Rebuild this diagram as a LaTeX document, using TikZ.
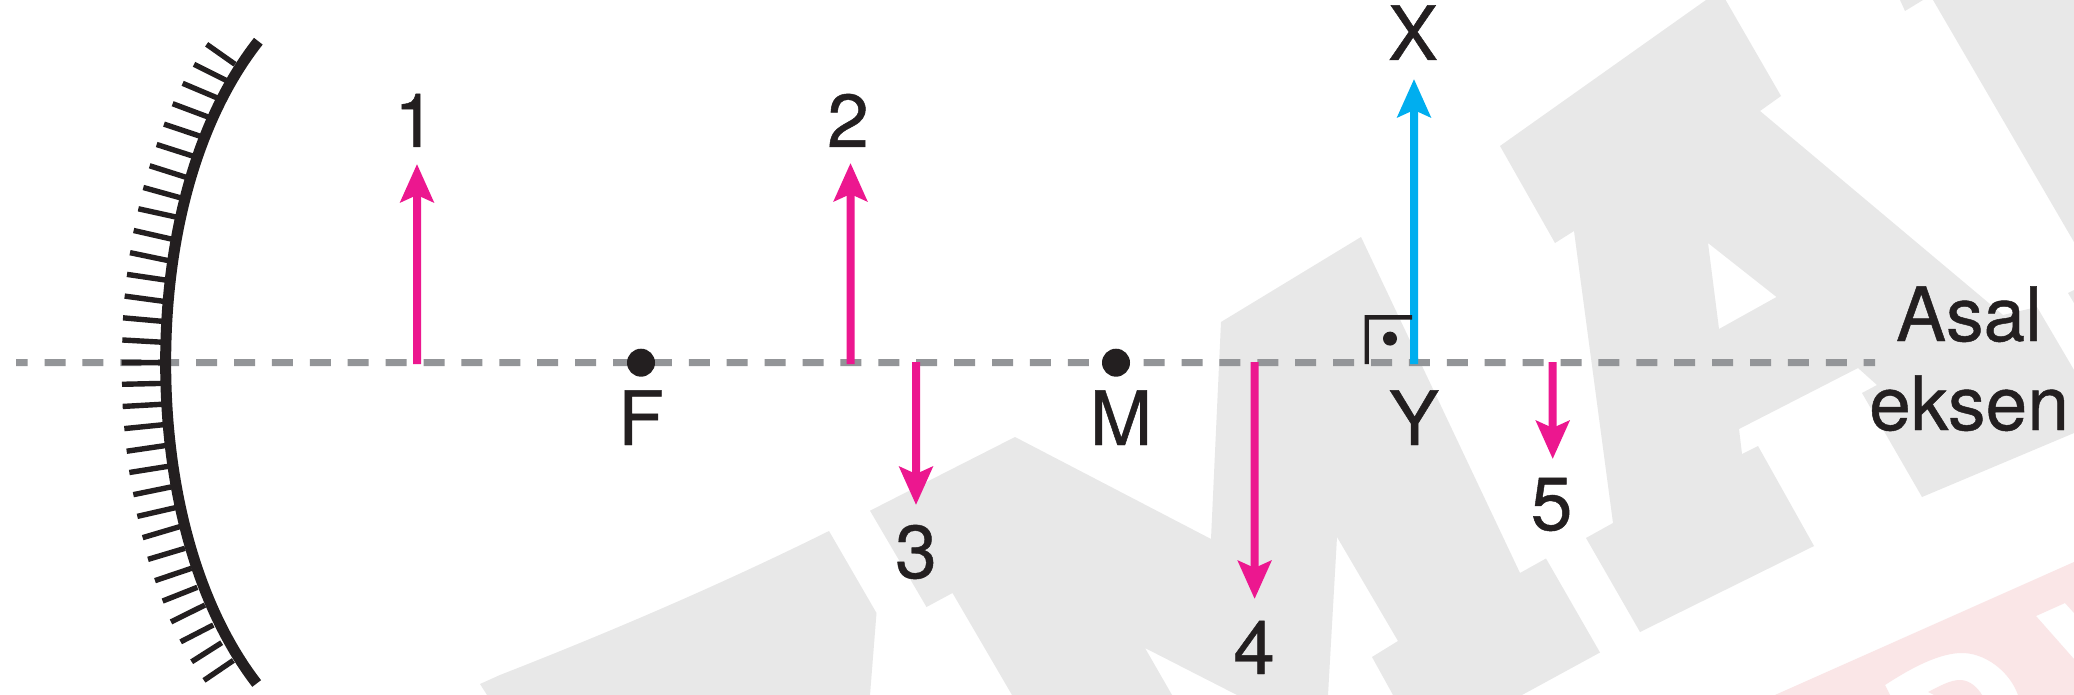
\documentclass[tikz,border=0pt]{standalone}
\usepackage{fontspec}
\setmainfont[FakeBold=0.6]{TeX Gyre Heros}
\usetikzlibrary{arrows.meta}
\definecolor{wmgray}{HTML}{E8E8E8}
\definecolor{wmred}{HTML}{FAE6E7}
\definecolor{axisgray}{HTML}{939598}
\definecolor{ink}{HTML}{231F20}
\definecolor{pinkarrow}{HTML}{EC178F}
\definecolor{cyanarrow}{HTML}{00AEEF}
\tikzset{
  lbl/.style={anchor=base,inner sep=0pt,text=ink,font=\fontsize{75}{75}\selectfont},
  vec/.style={line width=8pt,-{Stealth[length=38pt,width=33pt,inset=7pt]}},
  pinkvec/.style={vec,draw=pinkarrow,color=pinkarrow},
  cyanvec/.style={vec,draw=cyanarrow,color=cyanarrow},
  axisline/.style={draw=axisgray,line width=7pt,dash pattern=on 21pt off 16.9pt,dash phase=9.4pt},
  hatch/.style={draw=ink,line width=5.4pt},
  mirrorline/.style={draw=ink,line width=11pt},
  dotmark/.style={circle,fill=ink,inner sep=0pt,minimum size=28pt},
}
\begin{document}
\begin{tikzpicture}[x=1pt,y=-1pt]
\useasboundingbox (0,0) rectangle (2074,695);
\fill[white] (0,0) rectangle (2074,695);
% watermark
\fill[wmred] (1775,695) -- (2074,562) -- (2074,613) -- (2065,603) -- (2036,616) -- (2074,659) -- (2074,695) -- (2018,695)
  .. controls (2010,672) and (1985,652) .. (1960,653) .. controls (1935,654) and (1905,672) .. (1885,685) -- (1890,695) -- cycle;
\fill[wmred] (1928,692) .. controls (1940,686) and (1950,680) .. (1960,680) .. controls (1970,680) and (1978,688) .. (1982,695) -- (1934,695) -- cycle;
\fill[wmgray] (487,695) -- (480,684) -- (500,675) .. controls (610,632) and (720,585) .. (829,531) -- (876.5,613) -- (870,695) -- cycle;
\fill[wmgray] (870,510.7) -- (1015,437) -- (1211,539) -- (1221,322) -- (1361,237) -- (1520,573) -- (1546,558.5) -- (1600,652.5)
  -- (1522,695) -- (1393,695) -- (1372,657) -- (1398,641) -- (1337,537) -- (1328,695) -- (1237,695) -- (1145,648) -- (1172,695)
  -- (1012,695) -- (952.5,593) -- (926.5,607) -- cycle;
\fill[wmgray,even odd rule] (1706,0) -- (1725.6,0) -- (1781,96) -- (1760,111) -- (2003,315) -- (2037,307) -- (2074,370) -- (2074,433)
  -- (1922,497) -- (1862,393) -- (1877,385) -- (1858,368) -- (1739,429) -- (1742,454) -- (1758,446) -- (1814,546) -- (1640,632)
  -- (1586,538) -- (1613,523) -- (1574,231) -- (1555,243) -- (1500,146) -- cycle
  (1708,243) -- (1776.5,297) -- (1719,329) -- cycle;
\fill[wmgray] (1933,0) -- (2074,0) -- (2074,242) -- cycle;
\fill[wmgray] (1900,0) -- (1905,11) -- (1923,0) -- cycle;
\fill[wmgray] (2068,293) -- (2074,290) -- (2074,303) -- cycle;
% foreground, printed over the watermark
\begin{scope}[blend group=multiply]
\begin{scope}[blend mode=normal]
  \coordinate (axL) at (16,362.7);
  \coordinate (axR) at (1875,362.7);
  \path[axisline] (axL) -- (axR);
  % mirror, typed in the 3x / 2.256x crop units
  \begin{scope}[x=0.33333pt,y=-0.44326pt]
    \foreach \xa/\ya/\xb/\yb in {620/100/705/145,582/145/680/182,548/188/655/222,518/234/628/265,492/280/603/308,470/326/578/352,449/374/558/400,430/423/545/447,415/471/530/490,401/520/518/540,390/570/505/588,381/619/498/632,374/668/492/680,369/717/488/725,367/767/485/772,365/818/485/818,366/867/485/865,368/917/487/912,373/967/492/958,380/1018/498/1005,388/1066/505/1052,400/1116/517/1098,412/1165/528/1145,428/1213/540/1188,444/1262/555/1237,465/1310/575/1282,488/1356/592/1325,513/1403/615/1365,542/1448/640/1410,575/1493/665/1450,612/1535/700/1490}
      {\path[hatch] (\xa,\ya) -- (\xb,\yb);}
    \path[mirrorline] (775,93) .. controls (600,260) and (497,518) .. (497,818) .. controls (497,1118) and (600,1376) .. (770,1542);
  \end{scope}
  % arrows
  \coordinate (s1) at (417,364); \coordinate (e1) at (417,164);
  \coordinate (s2) at (850.5,364); \coordinate (e2) at (850.5,163);
  \coordinate (s3) at (916,362); \coordinate (e3) at (916,505);
  \coordinate (s4) at (1254.6,362); \coordinate (e4) at (1254.6,599);
  \coordinate (s5) at (1552.7,362); \coordinate (e5) at (1552.7,459);
  \coordinate (sX) at (1414,364); \coordinate (eX) at (1414,79);
  \draw[pinkvec] (s1) -- (e1);
  \draw[pinkvec] (s2) -- (e2);
  \draw[pinkvec] (s3) -- (e3);
  \draw[pinkvec] (s4) -- (e4);
  \draw[pinkvec] (s5) -- (e5);
  \draw[cyanvec] (sX) -- (eX);
  % right-angle mark
  \coordinate (r1) at (1366.7,364); \coordinate (r2) at (1366.7,317.4); \coordinate (r3) at (1412,317.4);
  \draw[ink,line width=4.4pt] (r1) -- (r2) -- (r3);
  \node[circle,fill=ink,inner sep=0pt,minimum size=14pt] (rdot) at (1390,338.6) {};
  % points
  \node[dotmark] (F) at (641,362.7) {};
  \node[dotmark] (M) at (1116,362.7) {};
  % labels
  \node[lbl] (l1) at (415,147) {1};
  \node[lbl] (l2) at (848,147) {2};
  \node[lbl] (l3) at (916,578) {3};
  \node[lbl] (l4) at (1254,674) {4};
  \node[lbl] (l5) at (1551.6,530) {5};
  \node[lbl] (lF) at (641,445) {F};
  \node[lbl] (lM) at (1121,445) {M};
  \node[lbl] (lX) at (1413,60) {X};
  \node[lbl] (lY) at (1414,445) {Y};
  \node[lbl] (lA) at (1969,341) {Asal};
  \node[lbl] (lE) at (1969,430) {eksen};
\end{scope}
\end{scope}
\end{tikzpicture}
\end{document}
